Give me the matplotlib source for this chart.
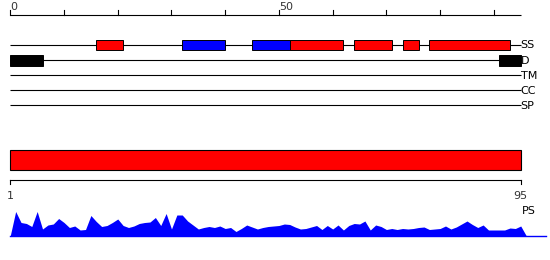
import matplotlib
matplotlib.use("Agg")
import matplotlib.pyplot as plt
import numpy as np

# ---------------- data ----------------
seq_length = 95
top_ticks = list(range(0, 100, 10))
top_tick_labels = {0: "0", 50: "50"}

track_names = ["SS", "D", "TM", "CC", "SP"]

ss_start = [16, 32, 45, 52, 64, 73, 78]
ss_end = [21, 40, 52, 62, 71, 76, 93]
ss_type = ["H", "E", "E", "H", "H", "H", "H"]

d_start = [0, 91]
d_end = [6, 95]

domain_start = [0]
domain_end = [95]
domain_labels = ["1", "95"]

ps_positions = list(range(0, 97))
ps_values = [0,
             24, 13, 12, 9, 24, 6.5, 10.5, 11.5, 17, 13,
             8, 9.5, 5.5, 6, 20, 14, 9, 10, 13, 16.5,
             10, 8, 9.5, 12, 13, 13.5, 18, 10, 22, 6.5,
             20.5, 20.5, 14.5, 10.5, 6.5, 8, 9, 8, 9.5, 7,
             8, 4, 7, 10.5, 8.5, 6.5, 8, 9, 9.5, 10,
             11.5, 11, 8.5, 6.5, 7, 8.5, 10, 6, 10, 6.5,
             10.5, 5.5, 10, 12, 11.5, 14.5, 5.5, 10.5, 9, 6,
             7, 6, 7, 6.5, 7, 8, 8.5, 6, 6.5, 7,
             9.5, 6.5, 8.5, 11.5, 14.5, 11, 8, 10.5, 5.5, 5.5,
             5.5, 5.5, 7.5, 7, 9.5,
             0]

# ---------------- layout ----------------
W, H = 550, 260
x0_px = 10.3
px_per_unit = 5.373

fig = plt.figure(figsize=(W / 100, H / 100), dpi=100)
ax = fig.add_axes([0, 0, 1, 1])
ax.set_xlim(-x0_px / px_per_unit, (W - x0_px) / px_per_unit)
ax.set_ylim(H, 0)
ax.axis("off")

fs = 8
lw = 0.8

# top ruler
ruler_y = 15
ax.plot([0, seq_length], [ruler_y, ruler_y], color="black", lw=lw, solid_capstyle="butt")
for t in top_ticks:
    ax.plot([t, t], [ruler_y, ruler_y - 5], color="black", lw=lw)
    if t in top_tick_labels:
        ax.text(t, ruler_y - 4.5, top_tick_labels[t], ha="left", va="baseline",
                fontsize=fs, color="#333333")

# tracks
track_y = [45, 60.3, 75.3, 90.3, 105.3]
for name, y in zip(track_names, track_y):
    ax.plot([0, seq_length], [y, y], color="black", lw=lw, solid_capstyle="butt", zorder=1)
    ax.text(seq_length, y + 0.5, name, ha="left", va="center", fontsize=fs, color="black")

ss_colors = {"H": "#ff0000", "E": "#0000ff"}
for s, e, t in zip(ss_start, ss_end, ss_type):
    ax.barh(track_y[0], e - s, left=s, height=10.5, color=ss_colors[t],
            edgecolor="black", linewidth=0.7, zorder=2)

for s, e in zip(d_start, d_end):
    ax.barh(track_y[1], e - s, left=s, height=10.5, color="black",
            edgecolor="black", linewidth=0.7, zorder=2)

# domain bar
for s, e in zip(domain_start, domain_end):
    ax.barh(160.3, e - s, left=s, height=20, color="#ff0000",
            edgecolor="black", linewidth=0.8, zorder=2)

# bottom ruler
by = 180.3
ax.plot([domain_start[0], domain_end[0]], [by, by], color="black", lw=lw)
for xx in (domain_start[0], domain_end[0]):
    ax.plot([xx, xx], [by, by + 4], color="black", lw=lw)
ax.text(domain_start[0], 196, domain_labels[0], ha="center", va="center", fontsize=fs, color="#333333")
ax.text(domain_end[0], 196, domain_labels[1], ha="center", va="center", fontsize=fs, color="#333333")

# PS area
base = 235.5
ps_x = np.array(ps_positions, dtype=float)
ps_v = np.array(ps_values, dtype=float)
ax.fill_between(ps_x, base, base - ps_v, color="#0000ff", linewidth=0, zorder=2)
ax.plot([0, (546 - x0_px) / px_per_unit], [base, base], color="#0000ff", lw=1.0, zorder=2)
ax.text(seq_length + 0.2, 210.5, "PS", ha="left", va="center", fontsize=fs, color="black")

fig.savefig("out.png", dpi=100)
